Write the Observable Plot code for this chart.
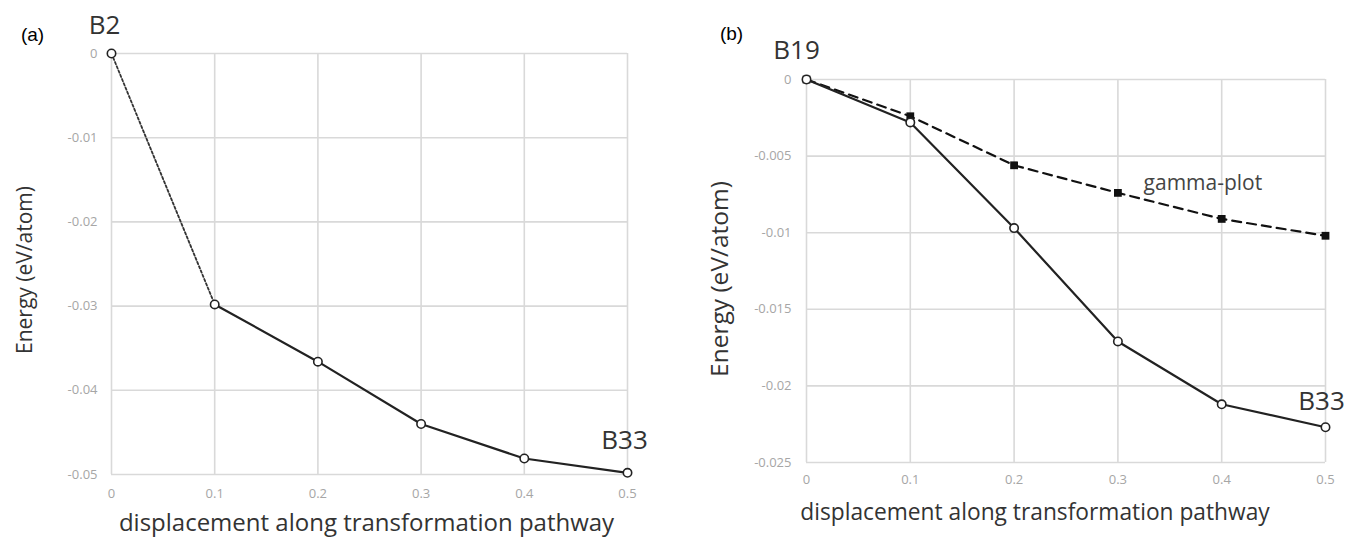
<!DOCTYPE html>
<html>
<head>
<meta charset="utf-8">
<script src="https://cdn.jsdelivr.net/npm/d3@7"></script>
<script src="https://cdn.jsdelivr.net/npm/@observablehq/plot@0.6"></script>
<style>
  html, body { margin: 0; padding: 0; background: #fff; }
  #wrap { position: relative; width: 1347px; height: 539px; overflow: hidden; }
  #wrap > svg { position: absolute; top: 0; }
</style>
</head>
<body>
<div id="wrap"></div>
<script>
// ---- data ----
const displacement = [0, 0.1, 0.2, 0.3, 0.4, 0.5];
const energyB2toB33 = [0, -0.0298, -0.0366, -0.0440, -0.0481, -0.0498];
const energyB19toB33 = [0, -0.0028, -0.0097, -0.0171, -0.0212, -0.0227];
const energyGammaPlot = [0, -0.0024, -0.0056, -0.0074, -0.0091, -0.0102];
const xTicks = [0, 0.1, 0.2, 0.3, 0.4, 0.5];
const yTicksA = [0, -0.01, -0.02, -0.03, -0.04, -0.05];
const yTicksB = [0, -0.005, -0.01, -0.015, -0.02, -0.025];
const panelLabels = ["(a)", "(b)"];
const phaseLabelsA = ["B2", "B33"];
const phaseLabelsB = ["B19", "B33"];
const seriesLabelGamma = "gamma-plot";
const xTitle = "displacement along transformation pathway";
const yTitle = "Energy (eV/atom)";

const rowsA = displacement.map((x, i) => ({x, y: energyB2toB33[i]}));
const rowsB = displacement.map((x, i) => ({x, y: energyB19toB33[i]}));
const rowsG = displacement.map((x, i) => ({x, y: energyGammaPlot[i]}));

const fmt = d => d === 0 ? "0" : String(+d.toFixed(4));
const FONT = "'Open Sans', sans-serif";
const GRID = "#d9d9d9";
const TICKC = "#a6a6a6";
const TXT = "#333333";
const PANELFONT = "'Liberation Sans', Arial, sans-serif";

function frameMarks(yTicks, xPad, yPad) {
  return [
    Plot.gridX(xTicks, {stroke: GRID, strokeOpacity: 1, strokeWidth: 1.6}),
    Plot.gridY(yTicks, {stroke: GRID, strokeOpacity: 1, strokeWidth: 1.6}),
    Plot.axisX(xTicks, {tickSize: 0, tickPadding: xPad, tickFormat: fmt, fill: TICKC, fontSize: 13, label: null}),
    Plot.axisY(yTicks, {tickSize: 0, tickPadding: yPad, tickFormat: fmt, fill: TICKC, fontSize: 13, label: null})
  ];
}

// ---- panel (a) ----
const plotA = Plot.plot({
  width: 674, height: 539,
  marginLeft: 111, marginRight: 47, marginTop: 53, marginBottom: 65,
  x: {domain: [0, 0.5]},
  y: {domain: [-0.05, 0]},
  style: {fontFamily: FONT, background: "transparent"},
  marks: [
    ...frameMarks(yTicksA, 14, 14),
    Plot.line(rowsA.slice(0, 2), {x: "x", y: "y", stroke: "#333", strokeWidth: 1.8, strokeDasharray: "2.4,2.2"}),
    Plot.line(rowsA.slice(1), {x: "x", y: "y", stroke: "#222", strokeWidth: 2.2}),
    Plot.dot(rowsA, {x: "x", y: "y", r: 4.2, fill: "white", stroke: "#222", strokeWidth: 1.6}),
    Plot.text([rowsA[0]], {x: "x", y: "y", text: () => phaseLabelsA[0], dx: -7, dy: -28, fontSize: 26, fill: TXT}),
    Plot.text([rowsA[5]], {x: "x", y: "y", text: () => phaseLabelsA[1], dx: -3, dy: -32, fontSize: 26, fill: TXT}),
    Plot.text([panelLabels[0]], {frameAnchor: "top-left", textAnchor: "middle", lineAnchor: "middle", dx: -79, dy: -19, fontSize: 19, fill: "#000", fontFamily: PANELFONT}),
    Plot.text([yTitle], {frameAnchor: "left", textAnchor: "middle", lineAnchor: "middle", dx: -86, dy: 6, rotate: -90, fontSize: 21, fill: TXT}),
    Plot.text([xTitle], {frameAnchor: "bottom", textAnchor: "middle", lineAnchor: "middle", dx: -3, dy: 49, fontSize: 24, fill: TXT})
  ]
});
plotA.style.left = "0px";

// ---- panel (b) ----
const plotB = Plot.plot({
  width: 673, height: 539,
  marginLeft: 132, marginRight: 22, marginTop: 79, marginBottom: 77,
  x: {domain: [0, 0.5]},
  y: {domain: [-0.025, 0]},
  style: {fontFamily: FONT, background: "transparent"},
  marks: [
    ...frameMarks(yTicksB, 12, 15),
    Plot.line(rowsG, {x: "x", y: "y", stroke: "#111", strokeWidth: 2.2, strokeDasharray: "9,6"}),
    Plot.dot(rowsG, {x: "x", y: "y", symbol: "square", r: 4.4, fill: "#111", stroke: "none"}),
    Plot.line(rowsB, {x: "x", y: "y", stroke: "#222", strokeWidth: 2.2}),
    Plot.dot(rowsB, {x: "x", y: "y", r: 4.2, fill: "white", stroke: "#222", strokeWidth: 1.6}),
    Plot.text([rowsB[0]], {x: "x", y: "y", text: () => phaseLabelsB[0], dx: -10, dy: -29, fontSize: 26, fill: TXT}),
    Plot.text([rowsB[5]], {x: "x", y: "y", text: () => phaseLabelsB[1], dx: -4, dy: -26, fontSize: 26, fill: TXT}),
    Plot.text([rowsG[3]], {x: "x", y: "y", text: () => seriesLabelGamma, dx: 85, dy: -10, fontSize: 21, fill: "#444"}),
    Plot.text([panelLabels[1]], {frameAnchor: "top-left", textAnchor: "middle", lineAnchor: "middle", dx: -75, dy: -46, fontSize: 19, fill: "#000", fontFamily: PANELFONT}),
    Plot.text([yTitle], {frameAnchor: "left", textAnchor: "middle", lineAnchor: "middle", dx: -86, dy: 8, rotate: -90, fontSize: 24.5, fill: TXT}),
    Plot.text([xTitle], {frameAnchor: "bottom", textAnchor: "middle", lineAnchor: "middle", dx: -31, dy: 50, fontSize: 22.75, fill: TXT})
  ]
});
plotB.style.left = "674px";

const wrap = document.getElementById("wrap");
wrap.appendChild(plotA);
wrap.appendChild(plotB);
</script>
</body>
</html>
